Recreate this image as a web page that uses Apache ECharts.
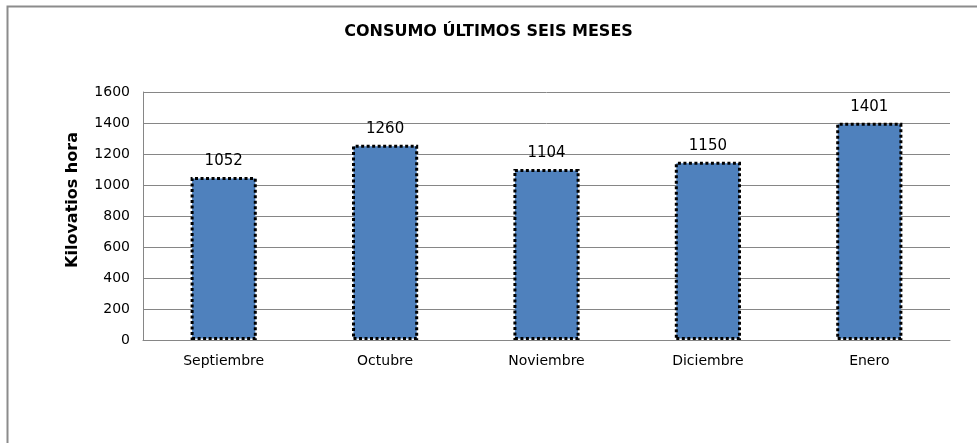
<!DOCTYPE html>
<html>
<head>
<meta charset="utf-8">
<script src="https://cdn.jsdelivr.net/npm/echarts@6/dist/echarts.min.js"></script>
<style>
  html, body { margin: 0; padding: 0; background: #fff; }
  #chart { width: 977px; height: 443px; }
</style>
</head>
<body>
<div id="chart"></div>
<script>
var months = ['Septiembre', 'Octubre', 'Noviembre', 'Diciembre', 'Enero'];
var consumo = [1052, 1260, 1104, 1150, 1401];
var yTicks = { min: 0, max: 1600, step: 200 };

var chart = echarts.init(document.getElementById('chart'));

var option = {
	animation: false,
	backgroundColor: '#fff',
	textStyle: { fontFamily: 'DejaVu Sans' },
	title: {
		text: 'CONSUMO ÚLTIMOS SEIS MESES',
		left: 'center',
		top: 19,
		textStyle: {
			fontFamily: 'DejaVu Sans',
			fontSize: 16,
			fontWeight: 'bold',
			color: '#000'
		}
	},
	graphic: [
		{
			type: 'polyline',
			shape: { points: [[7.5, 443], [7.5, 6.5], [977, 6.5]] },
			style: { stroke: '#8c8c8c', lineWidth: 2, fill: null }
		},
		{
			// titulo del eje Y
			type: 'text',
			x: 73,
			y: 200,
			rotation: Math.PI / 2,
			style: {
				text: 'Kilovatios hora',
				font: 'bold 16px "DejaVu Sans"',
				fill: '#000',
				align: 'center',
				verticalAlign: 'middle'
			}
		}
	],
	grid: {
		left: 143,
		right: 27,
		top: 92,
		bottom: 103
	},
	xAxis: {
		type: 'category',
		data: months,
		axisLine: { lineStyle: { color: '#868686', width: 1 } },
		axisTick: { show: false },
		axisLabel: {
			color: '#000',
			fontSize: 14,
			margin: 14
		}
	},
	yAxis: {
		type: 'value',
		min: yTicks.min,
		max: yTicks.max,
		interval: yTicks.step,
		axisLine: { show: true, lineStyle: { color: '#868686', width: 1 } },
		axisTick: { show: false },
		axisLabel: {
			color: '#000',
			fontSize: 14,
			margin: 13,
			formatter: function (v) { return String(v); }
		},
		splitLine: { lineStyle: { color: '#868686', width: 1 } }
	},
	series: [
		{
			type: 'bar',
			data: consumo,
			barWidth: '41%',
			itemStyle: {
				color: '#4f81bd',
				borderColor: '#000',
				borderWidth: 3,
				borderType: [3, 2.5]
			},
			label: {
				show: true,
				position: 'top',
				distance: 8,
				color: '#000',
				fontSize: 15
			}
		}
	]
};

chart.setOption(option);
</script>
</body>
</html>
